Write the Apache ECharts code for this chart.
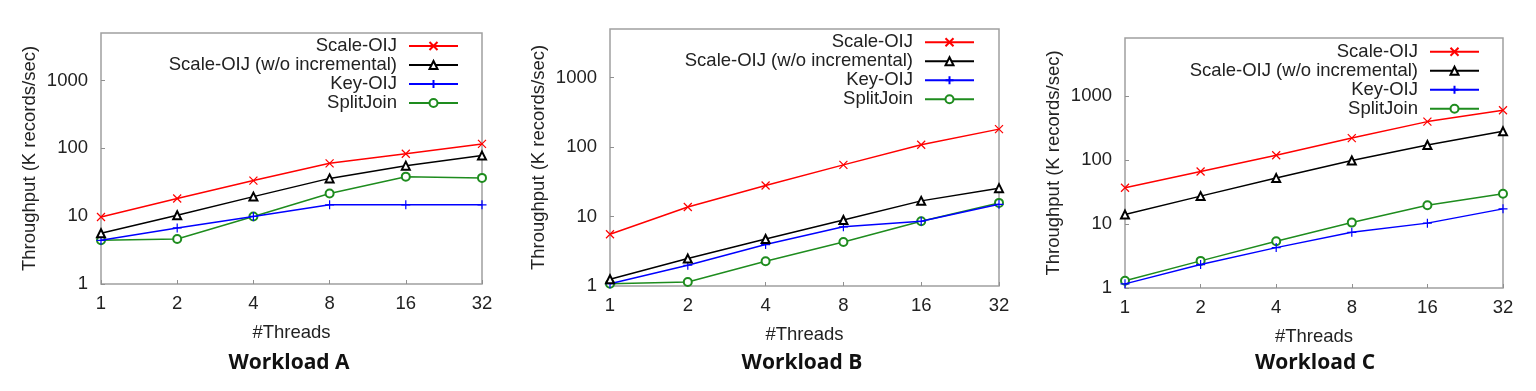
<!DOCTYPE html>
<html>
<head>
<meta charset="utf-8">
<script src="https://cdn.jsdelivr.net/npm/echarts@6/dist/echarts.min.js"></script>
<style>
html,body{margin:0;padding:0;background:#fff;}
#chart{width:1536px;height:391px;}
</style>
</head>
<body>
<div id="chart"></div>
<script>
// ---- data ----
const threads = ['1', '2', '4', '8', '16', '32'];
const seriesNames = ['Scale-OIJ', 'Scale-OIJ (w/o incremental)', 'Key-OIJ', 'SplitJoin'];
const panelTitles = ['Workload A', 'Workload B', 'Workload C'];
const yTicks = [1, 10, 100, 1000];

const A_scale = [9.7, 18.2, 33.4, 60, 83, 116];
const A_noinc = [5.6, 10.3, 19.4, 36, 55.5, 78];
const A_key = [4.4, 6.7, 9.9, 14.7, 14.7, 14.7];
const A_split = [4.4, 4.6, 9.9, 21.5, 38.2, 36.6];

const B_scale = [5.56, 13.7, 28, 55.4, 108, 181];
const B_noinc = [1.25, 2.48, 4.75, 8.9, 16.8, 25.6];
const B_key = [1.08, 1.99, 3.95, 7.1, 8.55, 15];
const B_split = [1.08, 1.14, 2.27, 4.3, 8.55, 15.7];

const C_scale = [36.7, 66, 118, 219, 396, 595];
const C_noinc = [14, 27.2, 52, 98, 171, 279];
const C_key = [1.16, 2.32, 4.27, 7.4, 10.3, 17.2];
const C_split = [1.3, 2.65, 5.36, 10.5, 19.6, 29.6];

const panelData = [
  [A_scale, A_noinc, A_key, A_split],
  [B_scale, B_noinc, B_key, B_split],
  [C_scale, C_noinc, C_key, C_split]
];

// ---- styling / layout ----
const colors = ['#ff0000', '#000000', '#0000ff', '#1e8c1e'];
const symbols = [
  'path://M0,0L10,10M10,0L0,10',
  'emptyTriangle',
  'path://M5,0L5,10M0,5L10,5',
  'emptyCircle'
];
const symbolSizes = [8, 8, 9, 8];
const grids = [
  {left: 101, top: 33, width: 381, height: 251, ymax: 5000},
  {left: 610, top: 29, width: 389, height: 257, ymax: 5000},
  {left: 1125, top: 38, width: 378, height: 250, ymax: 8000}
];
const legends = [
  {iconRight: 459, firstRow: 46},
  {iconRight: 975, firstRow: 42.3},
  {iconRight: 1480, firstRow: 51.7}
];
const titlePos = [[289, 363], [802, 363], [1315, 363]];

const FONT = 'Liberation Sans, Arial, sans-serif';
const FS = 18.5;
const gridOpt = [], xAxes = [], yAxes = [], series = [], legendOpt = [], graphics = [];

grids.forEach((g, p) => {
  gridOpt.push({left: g.left, top: g.top, width: g.width, height: g.height,
    show: true, borderColor: '#a0a0a0', borderWidth: 1.5, backgroundColor: 'transparent'});
  xAxes.push({
    type: 'category', gridIndex: p, data: threads, boundaryGap: false,
    name: '#Threads', nameLocation: 'middle', nameGap: 39,
    nameTextStyle: {fontFamily: FONT, fontSize: FS, color: '#222'},
    axisLine: {show: false},
    axisTick: {show: true, inside: true, length: 4, lineStyle: {color: '#909090'}},
    axisLabel: {fontFamily: FONT, fontSize: FS, color: '#222', margin: 10},
    splitLine: {show: false}
  });
  yAxes.push({
    type: 'log', gridIndex: p, logBase: 10, min: 1, max: g.ymax, interval: 1,
    name: 'Throughput (K records/sec)', nameLocation: 'middle', nameGap: 62,
    nameTextStyle: {fontFamily: FONT, fontSize: FS, color: '#222'},
    axisLine: {show: false},
    axisTick: {show: true, inside: true, length: 4, lineStyle: {color: '#909090'}},
    axisLabel: {fontFamily: FONT, fontSize: FS, color: '#222', margin: 13, showMaxLabel: false,
      formatter: v => { const r = Math.round(v); return yTicks.indexOf(r) >= 0 ? String(r) : ''; }},
    splitLine: {show: false}
  });
  panelData[p].forEach((vals, s) => {
    series.push({
      type: 'line', name: seriesNames[s], xAxisIndex: p, yAxisIndex: p,
      data: vals, symbol: symbols[s], symbolSize: symbolSizes[s], showAllSymbol: true,
      lineStyle: {color: colors[s], width: 1.5},
      itemStyle: {color: colors[s], borderColor: colors[s], borderWidth: 1.2},
      animation: false, z: 3 + (3 - s)
    });
  });
  const L = legends[p];
  legendOpt.push({
    orient: 'vertical', align: 'right',
    right: 1536 - L.iconRight, top: L.firstRow - 9.5,
    padding: 0, itemGap: 0, itemWidth: 49, itemHeight: 10,
    data: seriesNames.map(n => ({name: n})),
    textStyle: {fontFamily: FONT, fontSize: FS, color: '#222', lineHeight: 19, padding: [0, 7, 0, 0]},
    selectedMode: false
  });
  graphics.push({
    type: 'text', x: titlePos[p][0], y: titlePos[p][1],
    style: {text: panelTitles[p], fontFamily: 'Open Sans, Noto Sans, sans-serif', fontWeight: 'bold',
      fontSize: 21, fill: '#111', textAlign: 'center', textVerticalAlign: 'middle'}
  });
});

const chart = echarts.init(document.getElementById('chart'), null, {renderer: 'canvas'});
chart.setOption({
  animation: false,
  backgroundColor: '#fff',
  grid: gridOpt, xAxis: xAxes, yAxis: yAxes, series: series,
  legend: legendOpt, graphic: graphics
});
</script>
</body>
</html>
